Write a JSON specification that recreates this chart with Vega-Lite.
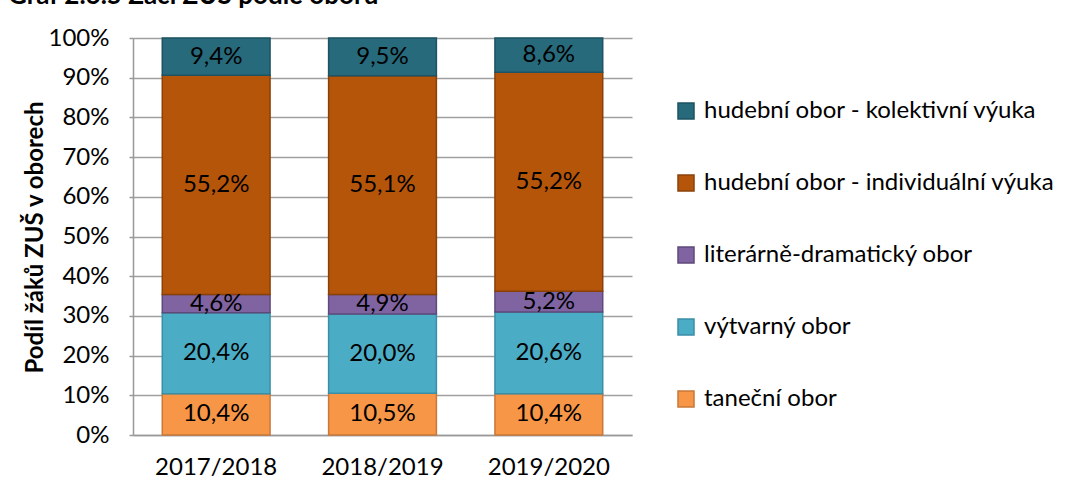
{
  "$schema": "https://vega.github.io/schema/vega-lite/v6.json",
  "autosize": "none",
  "width": 499,
  "height": 397,
  "padding": {"left": 133, "top": 38, "right": 440, "bottom": 54},
  "background": "white",
  "config": {
    "font": "Lato",
    "locale": {"number": {"decimal": ",", "thousands": " ", "grouping": [3], "currency": ["", " Kč"]}},
    "view": {"stroke": null},
    "axis": {"labelOverlap": false},
    "axisY": {"labelOverlap": false}
  },
  "title": {
    "text": "Graf 2.6.5 Žáci ZUŠ podle oborů",
    "anchor": "start",
    "frame": "group",
    "orient": "top",
    "baseline": "alphabetic",
    "offset": 14,
    "dx": -125,
    "dy": 18,
    "fontSize": 26,
    "fontWeight": "bold",
    "color": "black"
  },
  "data": {
    "values": [
      {"rok": "2017/2018", "obor": "taneční obor", "poradi": 1, "podil": 0.104},
      {"rok": "2017/2018", "obor": "výtvarný obor", "poradi": 2, "podil": 0.204},
      {"rok": "2017/2018", "obor": "literárně-dramatický obor", "poradi": 3, "podil": 0.046},
      {"rok": "2017/2018", "obor": "hudební obor - individuální výuka", "poradi": 4, "podil": 0.552},
      {"rok": "2017/2018", "obor": "hudební obor - kolektivní výuka", "poradi": 5, "podil": 0.094},
      {"rok": "2018/2019", "obor": "taneční obor", "poradi": 1, "podil": 0.105},
      {"rok": "2018/2019", "obor": "výtvarný obor", "poradi": 2, "podil": 0.200},
      {"rok": "2018/2019", "obor": "literárně-dramatický obor", "poradi": 3, "podil": 0.049},
      {"rok": "2018/2019", "obor": "hudební obor - individuální výuka", "poradi": 4, "podil": 0.551},
      {"rok": "2018/2019", "obor": "hudební obor - kolektivní výuka", "poradi": 5, "podil": 0.095},
      {"rok": "2019/2020", "obor": "taneční obor", "poradi": 1, "podil": 0.104},
      {"rok": "2019/2020", "obor": "výtvarný obor", "poradi": 2, "podil": 0.206},
      {"rok": "2019/2020", "obor": "literárně-dramatický obor", "poradi": 3, "podil": 0.052},
      {"rok": "2019/2020", "obor": "hudební obor - individuální výuka", "poradi": 4, "podil": 0.552},
      {"rok": "2019/2020", "obor": "hudební obor - kolektivní výuka", "poradi": 5, "podil": 0.086}
    ]
  },
  "transform": [
    {"stack": "podil", "groupby": ["rok"], "sort": [{"field": "poradi", "order": "ascending"}], "as": ["v0", "v1"]},
    {"calculate": "(datum.v0 + datum.v1) / 2", "as": "vmid"}
  ],
  "encoding": {
    "x": {
      "field": "rok",
      "type": "nominal",
      "scale": {"paddingInner": 0.352, "paddingOuter": 0.176},
      "axis": {
        "title": null,
        "labelAngle": 0,
        "labelFontSize": 24,
        "labelColor": "black",
        "labelPadding": 20,
        "ticks": false,
        "domain": true,
        "domainColor": "#999999",
        "domainWidth": 1.5
      }
    },
    "y": {
      "field": "v1",
      "type": "quantitative",
      "scale": {"domain": [0, 1]},
      "axis": {
        "title": "Podíl žáků ZUŠ v oborech",
        "titleFontSize": 24,
        "titleFontWeight": "bold",
        "titleColor": "black",
        "titleX": -98,
        "titleY": 199,
        "titleAngle": -90,
        "titleAlign": "center",
        "titleBaseline": "middle",
        "format": ".0%",
        "values": [0, 0.1, 0.2, 0.3, 0.4, 0.5, 0.6, 0.7, 0.8, 0.9, 1],
        "labelOverlap": false,
        "labelFontSize": 24,
        "labelColor": "black",
        "labelPadding": 20,
        "tickSize": 4,
        "tickColor": "#999999",
        "tickWidth": 1.5,
        "domainColor": "#999999",
        "domainWidth": 1.5,
        "grid": true,
        "gridColor": "#A0A0A0",
        "gridWidth": 1.5
      }
    }
  },
  "layer": [
    {
      "mark": {"type": "bar", "strokeWidth": 1.5},
      "encoding": {
        "y2": {"field": "v0"},
        "color": {
          "field": "obor",
          "type": "nominal",
          "scale": {
            "domain": ["hudební obor - kolektivní výuka", "hudební obor - individuální výuka", "literárně-dramatický obor", "výtvarný obor", "taneční obor"],
            "range": ["#276A7C", "#B5550A", "#8064A2", "#4BACC6", "#F79646"]
          },
          "legend": {
            "title": null,
            "orient": "none",
            "legendX": 541,
            "legendY": 61,
            "symbolType": "square",
            "symbolSize": 256,
            "symbolStrokeWidth": 1.5,
            "labelFontSize": 24,
            "labelColor": "black",
            "labelOffset": 6,
            "rowPadding": 48,
            "labelLimit": 500
          }
        },
        "stroke": {
          "field": "obor",
          "type": "nominal",
          "scale": {
            "domain": ["hudební obor - kolektivní výuka", "hudební obor - individuální výuka", "literárně-dramatický obor", "výtvarný obor", "taneční obor"],
            "range": ["#1D5362", "#8A4108", "#5E4A7A", "#3A8FA6", "#C8783A"]
          }
        }
      }
    },
    {
      "mark": {"type": "text", "fontSize": 24, "color": "black", "baseline": "middle"},
      "encoding": {
        "y": {"field": "vmid", "type": "quantitative"},
        "text": {"field": "podil", "type": "quantitative", "format": ".1%"}
      }
    }
  ]
}
